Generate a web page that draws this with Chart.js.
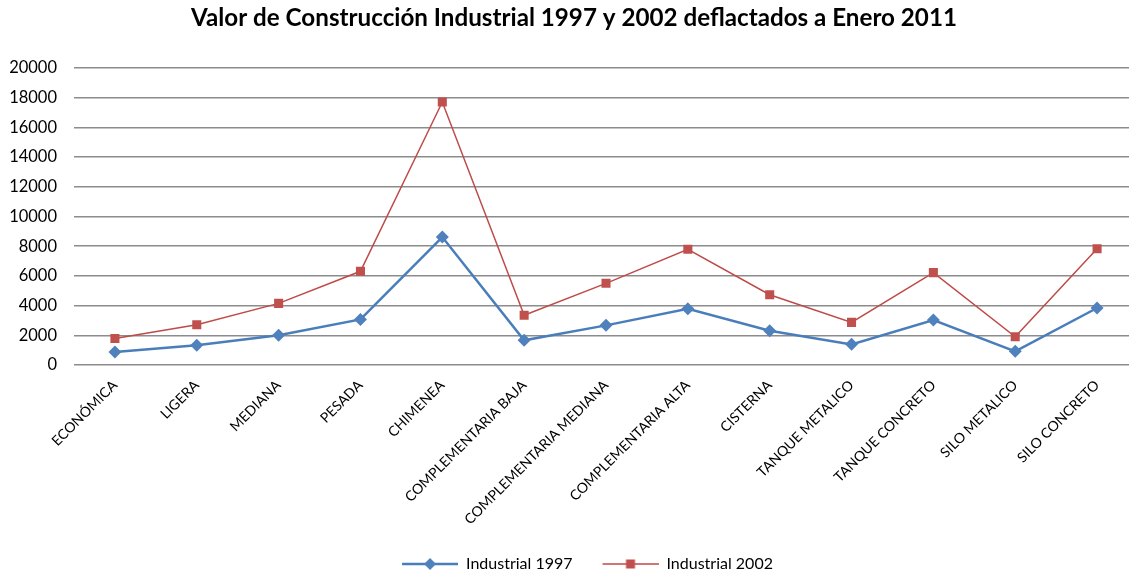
<!DOCTYPE html>
<html>
<head>
<meta charset="utf-8">
<script src="https://cdn.jsdelivr.net/npm/chart.js@4.4.1/dist/chart.umd.min.js"></script>
<style>
  html, body { margin: 0; padding: 0; background: #fff; overflow: hidden; }
  #wrap { width: 1150px; height: 573px; position: relative; }
</style>
</head>
<body>
<div id="wrap"><canvas id="c" width="1150" height="573"></canvas></div>
<script>
const titleText = 'Valor de Construcción Industrial 1997 y 2002 deflactados a Enero 2011';
const categories = ['ECONÓMICA', 'LIGERA', 'MEDIANA', 'PESADA', 'CHIMENEA', 'COMPLEMENTARIA BAJA',
  'COMPLEMENTARIA MEDIANA', 'COMPLEMENTARIA ALTA', 'CISTERNA', 'TANQUE METALICO',
  'TANQUE CONCRETO', 'SILO METALICO', 'SILO CONCRETO'];
const seriesNames = ['Industrial 1997', 'Industrial 2002'];
const industrial1997 = [870, 1330, 2000, 3070, 8620, 1660, 2670, 3790, 2310, 1390, 3030, 920, 3840];
const industrial2002 = [1780, 2710, 4150, 6310, 17710, 3350, 5500, 7790, 4730, 2870, 6220, 1900, 7830];
const yTicks = [0, 2000, 4000, 6000, 8000, 10000, 12000, 14000, 16000, 18000, 20000];

const FONT = 'Lato';
const BLUE_LINE = '#4A7EBB', BLUE_FILL = '#4F81BD';
const RED_LINE = '#BE4B48', RED_FILL = '#C0504D';
const ICON_GAP = 27, ICON_LINE = 56;

function legendIcon(lineColor, fillColor, lineW, shape) {
  const cv = document.createElement('canvas');
  cv.width = ICON_GAP + ICON_LINE; cv.height = 14;
  const g = cv.getContext('2d');
  const x0 = ICON_GAP, cx = ICON_GAP + ICON_LINE / 2;
  g.strokeStyle = lineColor; g.lineWidth = lineW;
  g.beginPath(); g.moveTo(x0, 7); g.lineTo(x0 + ICON_LINE, 7); g.stroke();
  g.fillStyle = fillColor;
  if (shape === 'diamond') {
    g.beginPath(); g.moveTo(cx, 1); g.lineTo(cx + 6, 7); g.lineTo(cx, 13); g.lineTo(cx - 6, 7); g.closePath(); g.fill();
  } else {
    g.fillRect(cx - 4.5, 2.5, 9, 9);
  }
  return cv;
}
const iconBlue = legendIcon(BLUE_LINE, BLUE_FILL, 2.5, 'diamond');
const iconRed = legendIcon(RED_LINE, RED_FILL, 1.5, 'square');

const legendShift = {
  id: 'legendShift',
  afterLayout(chart) {
    const lg = chart.legend;
    if (lg) { lg.top += 9; lg.bottom += 9; }
  }
};

new Chart(document.getElementById('c'), {
  type: 'line',
  data: {
    labels: categories,
    datasets: [
      { label: seriesNames[0], data: industrial1997, borderColor: BLUE_LINE, backgroundColor: BLUE_FILL,
        borderWidth: 2.5, pointStyle: 'rectRot', pointRadius: 6.5, pointBorderWidth: 0,
        pointBackgroundColor: BLUE_FILL, tension: 0, legendIcon: iconBlue },
      { label: seriesNames[1], data: industrial2002, borderColor: RED_LINE, backgroundColor: RED_FILL,
        borderWidth: 1.5, pointStyle: 'rect', pointRadius: 6.4, pointBorderWidth: 0,
        pointBackgroundColor: RED_FILL, tension: 0, legendIcon: iconRed }
    ]
  },
  plugins: [legendShift],
  options: {
    responsive: false,
    animation: false,
    layout: { padding: { left: 10, right: 12, top: 0, bottom: 0 } },
    plugins: {
      title: {
        display: true, text: titleText, color: '#000',
        font: { family: FONT, size: 24.2, weight: 'bold' },
        padding: { top: 4, bottom: 35 }
      },
      legend: {
        position: 'bottom',
        labels: {
          usePointStyle: true, pointStyleWidth: ICON_GAP + ICON_LINE, color: '#000',
          font: { family: FONT, size: 16 }, padding: 3, boxHeight: 14,
          generateLabels: (chart) => chart.data.datasets.map((ds, i) => ({
            text: ds.label, pointStyle: ds.legendIcon, datasetIndex: i,
            fillStyle: ds.backgroundColor, strokeStyle: ds.borderColor, lineWidth: 0, hidden: false
          }))
        }
      },
      tooltip: { enabled: false }
    },
    scales: {
      x: {
        type: 'category', offset: true,
        grid: { display: false },
        border: { display: false },
        ticks: { color: '#000', font: { family: FONT, size: 14 }, maxRotation: 45, minRotation: 45, autoSkip: false, padding: 4 },
        afterFit: (s) => { s.height = 179; }
      },
      y: {
        min: 0, max: 20000,
        afterBuildTicks: (s) => { s.ticks = yTicks.map(v => ({ value: v })); },
        grid: { color: '#8C8C8C', lineWidth: 1.5, drawTicks: false },
        border: { display: false },
        ticks: { color: '#000', font: { family: FONT, size: 16.5 }, padding: 17, callback: (v) => String(v) },
        afterFit: (s) => { s.width = 64; }
      }
    }
  }
});
</script>
</body>
</html>
